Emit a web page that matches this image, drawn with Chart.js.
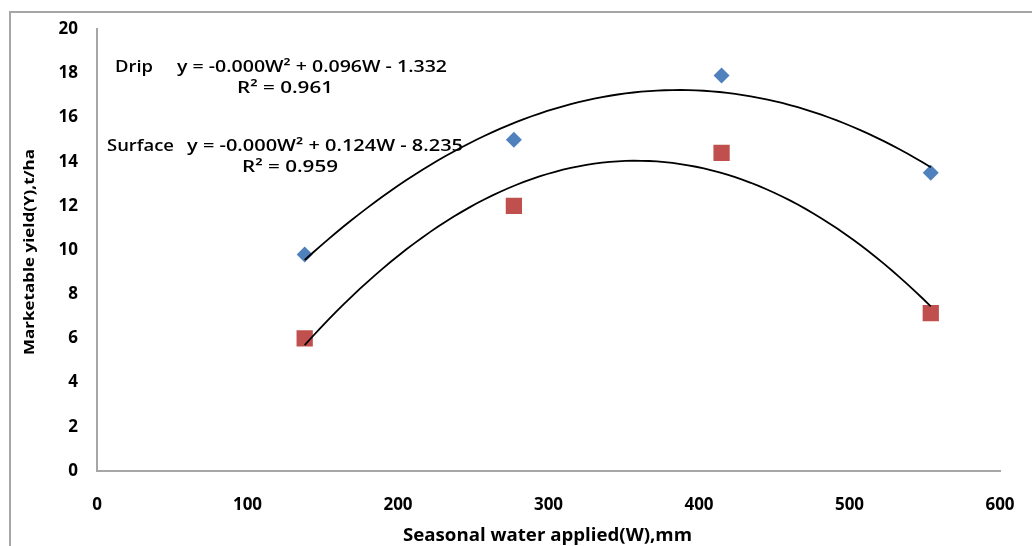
<!DOCTYPE html>
<html>
<head>
<meta charset="utf-8">
<script src="https://cdn.jsdelivr.net/npm/chart.js@4"></script>
<style>
  html, body { margin: 0; padding: 0; background: #fff; }
  #wrap { position: relative; width: 1032px; height: 546px; overflow: hidden; }
  #frame { position: absolute; left: 9px; top: 11px; width: 1040px; height: 560px; border: 2px solid #a6a6a6; box-sizing: border-box; }
  canvas { position: absolute; left: 0; top: 0; }
</style>
</head>
<body>
<div id="wrap">
  <div id="frame"></div>
  <canvas id="yieldChart" width="1032" height="546"></canvas>
</div>
<script>
// Seasonal water applied (mm)
const waterApplied = [138, 277, 415, 554];
// Marketable yield (t/ha)
const dripYield = [9.8, 15.0, 17.9, 13.5];
const surfaceYield = [6.0, 12.0, 14.4, 7.15];
const xTicks = [0, 100, 200, 300, 400, 500, 600];
const yTicks = [0, 2, 4, 6, 8, 10, 12, 14, 16, 18, 20];
const seriesNames = ['Drip', 'Surface'];
const equations = ['y = -0.000W\u00b2 + 0.096W - 1.332', 'y = -0.000W\u00b2 + 0.124W - 8.235'];
const rSquared = ['R\u00b2 = 0.961', 'R\u00b2 = 0.959'];
const xTitle = 'Seasonal water applied(W),mm';
const yTitle = 'Marketable yield(Y),t/ha';

// quadratic least squares fit, used only for the trendline
function quadFit(xs, ys) {
    let s = [0, 0, 0, 0, 0], t = [0, 0, 0];
    xs.forEach((x, i) => {
        for (let k = 0; k < 5; k++) s[k] += Math.pow(x, k);
        for (let k = 0; k < 3; k++) t[k] += ys[i] * Math.pow(x, k);
    });
    const m = [[s[0], s[1], s[2], t[0]], [s[1], s[2], s[3], t[1]], [s[2], s[3], s[4], t[2]]];
    for (let i = 0; i < 3; i++) {
        for (let j = i + 1; j < 3; j++) {
            const f = m[j][i] / m[i][i];
            for (let k = i; k < 4; k++) m[j][k] -= f * m[i][k];
        }
    }
    const c = [0, 0, 0];
    for (let i = 2; i >= 0; i--) {
        let v = m[i][3];
        for (let k = i + 1; k < 3; k++) v -= m[i][k] * c[k];
        c[i] = v / m[i][i];
    }
    return c;
}

function trendPoints(xs, ys) {
    const c = quadFit(xs, ys);
    const pts = [];
    const lo = xs[0], hi = xs[xs.length - 1];
    for (let i = 0; i <= 80; i++) {
        const x = lo + (hi - lo) * i / 80;
        pts.push({ x: x, y: c[0] + c[1] * x + c[2] * x * x });
    }
    return pts;
}

const toXY = (ys) => waterApplied.map((x, i) => ({ x: x, y: ys[i] }));

// text squeezed/stretched into a given width (the source text is a little wide)
function fitText(ctx, text, left, y, width) {
    const w = ctx.measureText(text).width;
    ctx.save();
    ctx.translate(left, y);
    ctx.scale(width / w, 1);
    ctx.fillText(text, 0, 0);
    ctx.restore();
}

// equations and axis titles
const chartText = {
    id: 'chartText',
    afterDraw(chart) {
        const ctx = chart.ctx;
        ctx.save();
        ctx.fillStyle = '#000';
        ctx.textBaseline = 'middle';
        ctx.textAlign = 'left';
        ctx.font = '600 17px "Open Sans", sans-serif';
        fitText(ctx, seriesNames[0], 115, 67, 38);
        fitText(ctx, equations[0], 177, 67, 270);
        fitText(ctx, rSquared[0], 237, 88, 96);
        fitText(ctx, seriesNames[1], 107, 146, 67);
        fitText(ctx, equations[1], 187, 146, 276);
        fitText(ctx, rSquared[1], 242, 167, 96);

        ctx.font = 'bold 18px "Open Sans", sans-serif';
        fitText(ctx, xTitle, 403, 536, 289);
        ctx.translate(30, 252);
        ctx.rotate(-Math.PI / 2);
        ctx.font = 'bold 15px "Open Sans", sans-serif';
        fitText(ctx, yTitle, -103, 0, 206);
        ctx.restore();
    }
};

const ctx = document.getElementById('yieldChart').getContext('2d');
const yieldChart = new Chart(ctx, {
    type: 'scatter',
    data: {
        datasets: [
            {
                label: 'Drip',
                data: toXY(dripYield),
                pointStyle: 'rectRot',
                pointRadius: 8,
                backgroundColor: '#4f81bd',
                borderWidth: 0,
                order: 1
            },
            {
                label: 'Surface',
                data: toXY(surfaceYield),
                pointStyle: 'rect',
                pointRadius: 11.5,
                backgroundColor: '#c0504d',
                borderWidth: 0,
                order: 1
            },
            {
                label: 'Drip trend',
                type: 'line',
                data: trendPoints(waterApplied, dripYield),
                borderColor: '#000',
                borderWidth: 1.8,
                pointRadius: 0,
                fill: false,
                order: 0
            },
            {
                label: 'Surface trend',
                type: 'line',
                data: trendPoints(waterApplied, surfaceYield),
                borderColor: '#000',
                borderWidth: 1.8,
                pointRadius: 0,
                fill: false,
                order: 0
            }
        ]
    },
    options: {
        responsive: false,
        animation: false,
        layout: { padding: { left: 0, top: 29, right: 32, bottom: 0 } },
        plugins: {
            legend: { display: false },
            tooltip: { enabled: false }
        },
        scales: {
            x: {
                type: 'linear',
                min: 0,
                max: 600,
                afterBuildTicks: (axis) => { axis.ticks = xTicks.map(v => ({ value: v })); },
                afterFit: (axis) => {
                    axis.height = 75;
                    axis.paddingLeft = 0;
                    axis.paddingRight = 0;
                },
                grid: { display: false, drawTicks: false },
                border: { color: '#a6a6a6', width: 2 },
                ticks: {
                    padding: 24,
                    color: '#000',
                    font: { family: 'Open Sans', size: 17, weight: 'bold' }
                }
            },
            y: {
                min: 0,
                max: 20,
                afterBuildTicks: (axis) => { axis.ticks = yTicks.map(v => ({ value: v })); },
                afterFit: (axis) => { axis.width = 97; },
                grid: { display: false, drawTicks: false },
                border: { color: '#a6a6a6', width: 2 },
                ticks: {
                    padding: 19,
                    color: '#000',
                    font: { family: 'Open Sans', size: 17, weight: 'bold' }
                }
            }
        }
    },
    plugins: [chartText]
});
</script>
</body>
</html>
